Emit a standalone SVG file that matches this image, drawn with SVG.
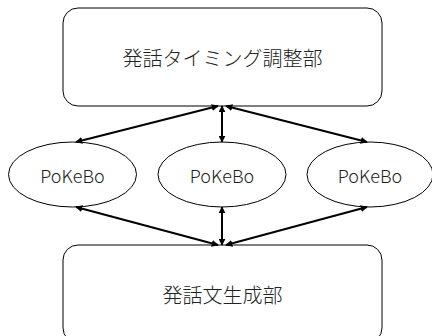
<svg xmlns="http://www.w3.org/2000/svg" width="432" height="336" viewBox="0 0 432 336">
<style>
.box{fill:#fff;stroke:#000;stroke-width:1}
.ell{fill:#fff;stroke:#000;stroke-width:1}
.lbl{font-family:"Noto Sans CJK JP","Noto Sans",sans-serif;font-size:20px;font-weight:300;fill:#222;text-anchor:middle;dominant-baseline:central}
.lat{font-size:18px}
.conn{stroke:#000;stroke-width:2;fill:none;marker-start:url(#ah);marker-end:url(#ah)}
</style>
<defs>
<marker id="ah" viewBox="0 0 10 10" refX="9" refY="5" markerWidth="3.5" markerHeight="3.5" orient="auto-start-reverse" markerUnits="strokeWidth">
<path d="M0,0 L10,5 L0,10 z" fill="#000"/>
</marker>
</defs>
<rect width="432" height="336" fill="#fff"/>
<g id="timing">
<rect class="box" x="63" y="8" width="319" height="98" rx="15"/>
<text class="lbl" x="222.5" y="57">発話タイミング調整部</text>
</g>
<g id="pokebo1">
<ellipse class="ell" cx="72.5" cy="174.5" rx="64" ry="32.5"/>
<text class="lbl lat" x="72.5" y="174.5">PoKeBo</text>
</g>
<g id="pokebo2">
<ellipse class="ell" cx="222" cy="174.5" rx="64" ry="32.5"/>
<text class="lbl lat" x="222" y="174.5">PoKeBo</text>
</g>
<g id="pokebo3">
<ellipse class="ell" cx="370" cy="174.5" rx="63" ry="32.5"/>
<text class="lbl lat" x="370" y="174.5">PoKeBo</text>
</g>
<g id="generation">
<rect class="box" x="63" y="245" width="319" height="98" rx="15"/>
<text class="lbl" x="222.5" y="294">発話文生成部</text>
</g>
<g id="connectors">
<line class="conn" x1="218" y1="106" x2="76" y2="142"/>
<line class="conn" x1="222" y1="106" x2="222" y2="142"/>
<line class="conn" x1="226" y1="106" x2="367" y2="142"/>
<line class="conn" x1="76" y1="207" x2="218" y2="245"/>
<line class="conn" x1="222" y1="207" x2="222" y2="245"/>
<line class="conn" x1="367" y1="207" x2="226" y2="245"/>
</g>
</svg>
